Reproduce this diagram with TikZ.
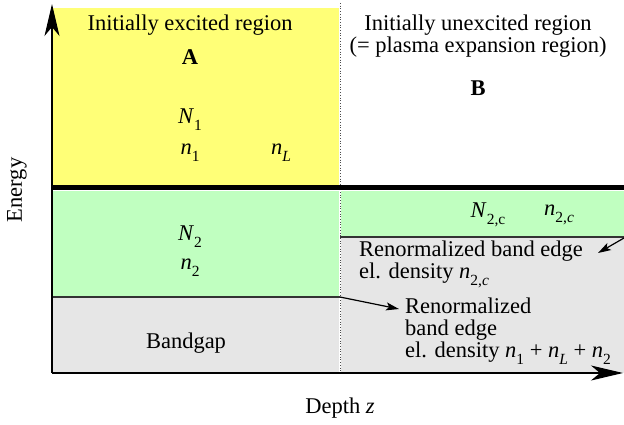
\documentclass[tikz,border=0pt]{standalone}
\usepackage{fontspec}
\setmainfont{Liberation Serif}
\usetikzlibrary{arrows.meta}
\definecolor{yel}{RGB}{255,255,119}
\definecolor{grn}{RGB}{192,255,192}
\definecolor{gry}{RGB}{230,230,230}
\newcommand\sbs[1]{\raisebox{-0.32em}{\fontsize{15.5}{15.5}\selectfont #1}}
\begin{document}
\begin{tikzpicture}[x=1pt,y=-1pt,
  lbl/.style={font=\fontsize{22.5}{22}\selectfont, inner sep=0pt},
  bnd/.style={draw=black!80, line width=1.2pt},
  axis/.style={line width=1.4pt, -{Stealth[length=32pt,width=15pt,inset=9pt]}},
  ptr/.style={line width=1.2pt, -{Stealth[length=13pt,width=8pt,inset=3pt]}}]
\useasboundingbox (0,0) rectangle (624,424);
% regions
\fill[yel] (52,8) rectangle (339,184.5);
\fill[grn] (52,190.5) rectangle (339,297);
\fill[gry] (52,297) rectangle (339,373);
\fill[grn] (341,190.5) rectangle (624,237);
\fill[gry] (341,237) rectangle (624,373);
\draw[line width=0.7pt, dotted, black!70] (340,3) -- (340,373);
\draw[line width=5pt] (52,187.5) -- (624,187.5);
\draw[bnd] (52,297) -- (340,297);
\draw[bnd] (340,237) -- (624,237);
% axes
\coordinate (o) at (52,373);
\coordinate (ytop) at (52,4);
\coordinate (xend) at (623,373);
\draw[axis] (o) -- (ytop);
\draw[axis] (o) -- (xend);
% labels
\node[lbl] (exc) at (190,25) {Initially excited region};
\node[lbl, font=\fontsize{22.5}{22}\selectfont\bfseries] (A) at (190,57) {A};
\node[lbl] (N1) at (190,120) {\textit{N}\sbs{1}};
\node[lbl] (n1) at (190,153) {\textit{n}\sbs{1}};
\node[lbl] (nL) at (281,153) {\textit{n}\sbs{\textit{L}}};
\node[lbl, align=center] (unexc) at (478,36) {Initially unexcited region\\(= plasma expansion region)};
\node[lbl, font=\fontsize{22.5}{22}\selectfont\bfseries] (B) at (478,88) {B};
\node[lbl, rotate=90] (energy) at (17,190) {Energy};
\node[lbl] (depth) at (340,408) {Depth \textit{z}};
\node[lbl] (N2) at (190,237) {\textit{N}\sbs{2}};
\node[lbl] (n2) at (190,268) {\textit{n}\sbs{2}};
\node[lbl] (bg) at (186,343) {Bandgap};
\node[lbl] (N2c) at (488,215) {\textit{N}\sbs{2,c}};
\node[lbl] (n2c) at (559,215) {\textit{n}\sbs{2,\textit{c}}};
\node[lbl, align=left, anchor=west] (ren1) at (359,264) {Renormalized band edge\\el. density \textit{n}\sbs{2,\textit{c}}};
\node[lbl, align=left, anchor=west] (ren2) at (405,331) {Renormalized\\band edge\\el. density \textit{n}\sbs{1} + \textit{n}\sbs{\textit{L}} + \textit{n}\sbs{2}};
% pointers
\coordinate (p1s) at (340,297);
\coordinate (p1e) at (399,309);
\draw[ptr] (p1s) -- (p1e);
\coordinate (p2s) at (624,238);
\coordinate (p2e) at (598,253);
\draw[ptr] (p2s) -- (p2e);
\end{tikzpicture}
\end{document}
